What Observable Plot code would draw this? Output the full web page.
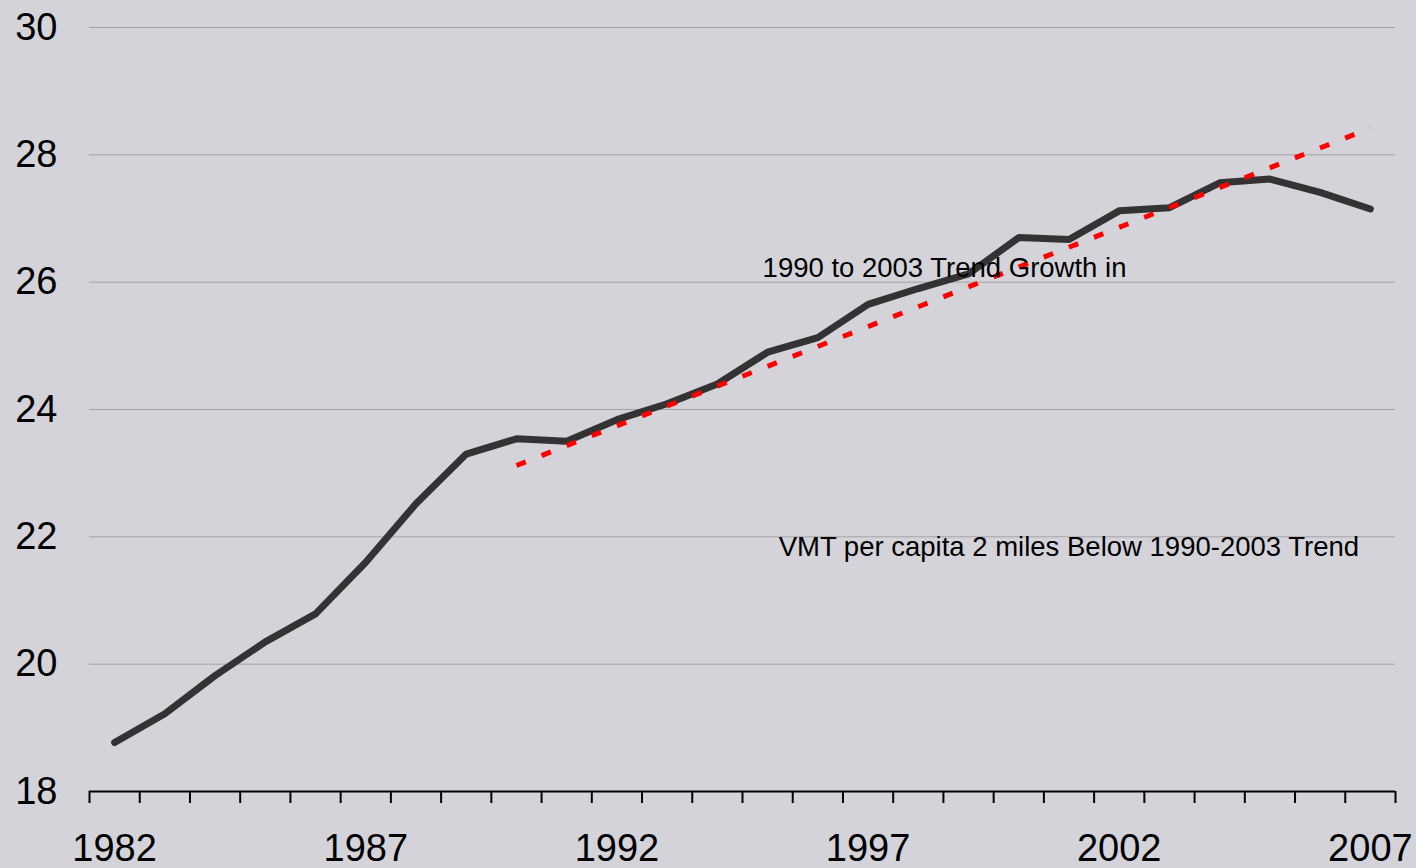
<!DOCTYPE html>
<html>
<head>
<meta charset="utf-8">
<script src="https://cdn.jsdelivr.net/npm/d3@7"></script>
<script src="https://cdn.jsdelivr.net/npm/@observablehq/plot@0.6"></script>
<style>
  html, body { margin: 0; padding: 0; background: #d4d3d9; }
  #chart svg { display: block; }
</style>
</head>
<body>
<div id="chart"></div>
<script>
const years = [1982,1983,1984,1985,1986,1987,1988,1989,1990,1991,1992,1993,1994,
  1995,1996,1997,1998,1999,2000,2001,2002,2003,2004,2005,2006,2007];
const vmtPerCapita = [18.77,19.22,19.82,20.35,20.79,21.60,22.52,23.30,23.54,23.50,23.84,24.09,24.40,
  24.90,25.13,25.65,25.90,26.13,26.70,26.67,27.12,27.17,27.56,27.62,27.41,27.15];
const trendYears = [1990, 2007];
const trendValues = [23.12, 28.42];
const yTicks = [18, 20, 22, 24, 26, 28, 30];
const xLabelYears = [1982, 1987, 1992, 1997, 2002, 2007];
const annotations = [
  {year: 1994.9, value: 26.22, text: "1990 to 2003 Trend Growth in"},
  {year: 1995.22, value: 21.84, text: "VMT per capita 2 miles Below 1990-2003 Trend"}
];

const series = years.map((y, i) => ({year: y, value: vmtPerCapita[i]}));
const trend = trendYears.map((y, i) => ({year: y, value: trendValues[i]}));
const boundaries = years.map(y => y - 0.5).concat([years[years.length - 1] + 0.5]);

const chart = Plot.plot({
  width: 1416,
  height: 868,
  marginLeft: 89,
  marginRight: 21,
  marginTop: 27,
  marginBottom: 77,
  style: {background: "#d4d3d9", fontFamily: "'Liberation Sans', Arial, sans-serif", color: "#000"},
  x: {domain: [years[0] - 0.5, years[years.length - 1] + 0.5]},
  y: {domain: [18, 30]},
  marks: [
    Plot.ruleY(yTicks.filter(v => v > 18), {stroke: "#a3a3a6", strokeWidth: 1}),
    Plot.axisY(yTicks, {tickSize: 0, tickPadding: 32, fontSize: 38, label: null, textAnchor: "end", tickFormat: d => String(d)}),
    Plot.axisX(boundaries, {tickSize: 12, tickFormat: () => "", stroke: "#000", strokeWidth: 2, label: null}),
    Plot.axisX(xLabelYears, {tickSize: 0, tickPadding: 43, fontSize: 38, tickFormat: d => String(d), label: null}),
    Plot.ruleY([18], {stroke: "#000", strokeWidth: 2}),
    Plot.line(series, {x: "year", y: "value", stroke: "#333333", strokeWidth: 7, strokeLinejoin: "miter", strokeLinecap: "round"}),
    Plot.line(trend, {x: "year", y: "value", stroke: "#ff0000", strokeWidth: 5, strokeDasharray: "10,17", strokeLinecap: "butt"}),
    Plot.text(annotations, {x: "year", y: "value", text: "text", textAnchor: "start", fontSize: 27.5, fill: "#000"})
  ]
});
document.getElementById("chart").appendChild(chart);
</script>
</body>
</html>
